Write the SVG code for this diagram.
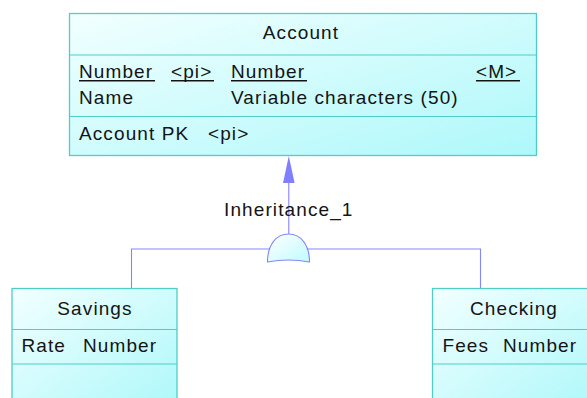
<svg xmlns="http://www.w3.org/2000/svg" width="587" height="398" viewBox="0 0 587 398">
  <defs>
    <linearGradient id="entityFill" x1="0" y1="0" x2="1" y2="1">
      <stop offset="0" stop-color="#f2ffff"/>
      <stop offset="1" stop-color="#aef8fa"/>
    </linearGradient>
    <linearGradient id="domeFill" x1="0" y1="0" x2="1" y2="1">
      <stop offset="0" stop-color="#ffffff"/>
      <stop offset="1" stop-color="#c0fbff"/>
    </linearGradient>
    <style>
      .box { fill: url(#entityFill); stroke: #4fcdc6; stroke-width: 1.3; }
      .div { stroke: #4fcdc6; stroke-width: 1.2; }
      .t { font-family: "Liberation Sans", Arial, sans-serif; font-size: 19px; letter-spacing: 1.1px; fill: #141414; }
      .c { text-anchor: middle; }
      .u { stroke: #141414; stroke-width: 1.4; }
      .link { fill: none; stroke: #8585ff; stroke-width: 1.1; }
    </style>
  </defs>

  <!-- connectors -->
  <g id="connectors">
    <polyline class="link" points="131.5,288.5 131.5,249 480.5,249 480.5,288.5"/>
    <line class="link" x1="288.8" y1="234" x2="288.8" y2="180"/>
    <polygon points="288.8,156 283,183 294.6,183" fill="#8080ff"/>
    <text class="t c" x="288.8" y="216">Inheritance_1</text>
  </g>

  <!-- inheritance symbol -->
  <g id="inheritance">
    <path d="M267.5,262 C267.5,245 276,234 288.5,234 C301,234 309.5,245 309.5,262 Q288.5,258 267.5,262 Z" fill="url(#domeFill)" stroke="#8585ff" stroke-width="1.1"/>
  </g>

  <!-- parent entity -->
  <g id="account">
    <rect class="box" x="69.5" y="13.5" width="467" height="142"/>
    <line class="div" x1="69.5" y1="55" x2="536.5" y2="55"/>
    <line class="div" x1="69.5" y1="116.5" x2="536.5" y2="116.5"/>
    <text class="t c" x="301" y="38.5">Account</text>
    <text class="t" x="79" y="77.5">Number</text>
    <line class="u" x1="79" y1="80.8" x2="155" y2="80.8"/>
    <text class="t" x="171" y="77.5">&lt;pi&gt;</text>
    <line class="u" x1="171" y1="80.8" x2="214" y2="80.8"/>
    <text class="t" x="231" y="77.5">Number</text>
    <line class="u" x1="231" y1="80.8" x2="307" y2="80.8"/>
    <text class="t" x="476" y="77.5">&lt;M&gt;</text>
    <line class="u" x1="476" y1="80.8" x2="520" y2="80.8"/>
    <text class="t" x="79" y="104">Name</text>
    <text class="t" x="231" y="104">Variable characters (50)</text>
    <text class="t" x="79" y="139.5">Account PK</text>
    <text class="t" x="208" y="139.5">&lt;pi&gt;</text>
  </g>

  <!-- child entities -->
  <g id="savings">
    <rect class="box" x="12" y="288.5" width="165" height="120"/>
    <line class="div" x1="12" y1="329.5" x2="177" y2="329.5"/>
    <line class="div" x1="12" y1="364" x2="177" y2="364"/>
    <text class="t c" x="95" y="315">Savings</text>
    <text class="t" x="21.5" y="351.5">Rate</text>
    <text class="t" x="83" y="351.5">Number</text>
  </g>

  <g id="checking">
    <rect class="box" x="432.5" y="288.5" width="165" height="120"/>
    <line class="div" x1="432.5" y1="329.5" x2="597.5" y2="329.5"/>
    <line class="div" x1="432.5" y1="364" x2="597.5" y2="364"/>
    <text class="t c" x="514" y="315">Checking</text>
    <text class="t" x="442.5" y="351.5">Fees</text>
    <text class="t" x="503" y="351.5">Number</text>
  </g>
</svg>
